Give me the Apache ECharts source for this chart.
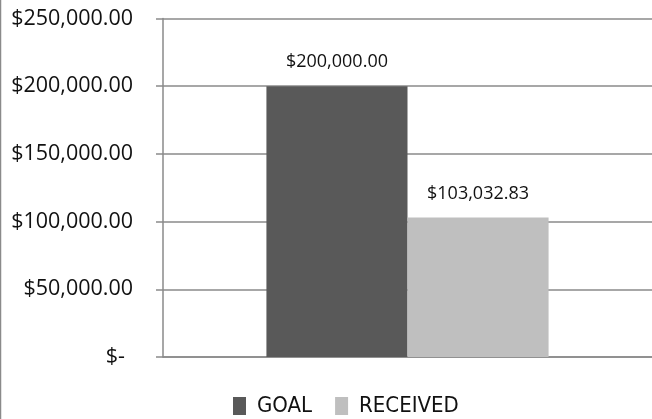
<!DOCTYPE html>
<html>
<head>
<meta charset="utf-8">
<script src="https://cdn.jsdelivr.net/npm/echarts@6/dist/echarts.min.js"></script>
<style>
html,body{margin:0;padding:0;background:#fff;}
#chart{width:652px;height:419px;}
</style>
</head>
<body>
<div id="chart"></div>
<script>
var categories = ['Funds'];
var seriesNames = ['GOAL', 'RECEIVED'];
var goalValues = [200000];
var receivedValues = [103032.83];
var yTicks = [0, 50000, 100000, 150000, 200000, 250000];

function money(v) {
  return '$' + Number(v).toLocaleString('en-US', {minimumFractionDigits: 2, maximumFractionDigits: 2});
}

var chart = echarts.init(document.getElementById('chart'));
chart.setOption({
  animation: false,
  backgroundColor: '#fff',
  grid: {left: 163, right: 0, top: 18.5, bottom: 62},
  graphic: [{
    type: 'line', shape: {x1: 0.5, y1: 0, x2: 0.5, y2: 419},
    style: {stroke: '#8a8a8a', lineWidth: 1.5}
  }],
  legend: {
    left: 233, top: 395, padding: 0,
    itemWidth: 13, itemHeight: 18, itemGap: 23,
    icon: 'rect',
    textStyle: {fontFamily: '"Liberation Sans Narrow", "DejaVu Sans Condensed", sans-serif', fontSize: 22, color: '#111', padding: [0, 0, 0, 6]},
    data: seriesNames
  },
  xAxis: {
    type: 'category', data: categories,
    axisLine: {lineStyle: {color: '#8a8a8a', width: 1.5}},
    axisTick: {show: false}, axisLabel: {show: false}
  },
  yAxis: {
    type: 'value', min: yTicks[0], max: yTicks[yTicks.length - 1], interval: yTicks[1] - yTicks[0],
    axisLine: {show: true, lineStyle: {color: '#8a8a8a', width: 1.5}},
    axisTick: {show: true, length: 7, lineStyle: {color: '#8a8a8a', width: 1.5}},
    splitLine: {lineStyle: {color: '#8a8a8a', width: 1.5}},
    axisLabel: {
      margin: 30, fontFamily: 'Open Sans', fontSize: 21.5, color: '#111',
      formatter: function (v) { return v === 0 ? '{z|$-}' : money(v); },
      rich: {z: {fontFamily: 'Open Sans', fontSize: 21.5, color: '#111', padding: [0, 8, 0, 0]}}
    }
  },
  series: [{
    name: seriesNames[0], type: 'bar', data: goalValues,
    barGap: '0%', barCategoryGap: '42.3%',
    itemStyle: {color: '#595959'},
    label: {show: true, position: 'top', distance: 15, formatter: function (p) { return money(p.value); },
      fontFamily: 'Open Sans', fontSize: 18, color: '#111'}
  }, {
    name: seriesNames[1], type: 'bar', data: receivedValues,
    itemStyle: {color: '#bfbfbf'},
    label: {show: true, position: 'top', distance: 15, formatter: function (p) { return money(p.value); },
      fontFamily: 'Open Sans', fontSize: 18, color: '#111'}
  }]
});
</script>
</body>
</html>
